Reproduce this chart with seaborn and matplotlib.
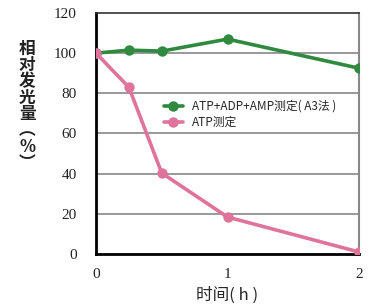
import matplotlib
matplotlib.use("Agg")
import matplotlib.pyplot as plt
import seaborn as sns
import pandas as pd

# data
hours = [0, 0.25, 0.5, 1, 2]
total_atp = [100, 101.5, 101, 107, 92.5]
atp_only = [100, 83, 40.3, 18.4, 1]
series_names = ["ATP+ADP+AMP测定( A3法 )", "ATP测定"]
y_ticks = [0, 20, 40, 60, 80, 100, 120]
x_ticks = [0, 1, 2]

sns.set_style("white")
plt.rcParams["font.family"] = ["Noto Sans CJK SC", "DejaVu Sans"]

df = pd.DataFrame({
    "hours": hours * 2,
    "value": total_atp + atp_only,
    "series": [series_names[0]] * len(hours) + [series_names[1]] * len(hours),
})

green = "#2f8a3f"
pink = "#e0739c"

fig = plt.figure(figsize=(3.71, 3.07), dpi=100)
ax = fig.add_axes([0.2588, 0.1726, 0.7089, 0.7851])

sns.lineplot(data=df, x="hours", y="value", hue="series",
             palette=[green, pink], marker="o", markersize=7.5,
             markeredgewidth=0, linewidth=2.6, ax=ax, zorder=3)

ax.set_xlim(0, 2)
ax.set_ylim(0, 120)
ax.set_yticks(y_ticks)
ax.set_xticks(x_ticks)
ax.set_yticklabels([str(v) for v in y_ticks], family="Liberation Serif", fontsize=11, color="#222222")
ax.set_xticklabels([str(v) for v in x_ticks], family="Liberation Serif", fontsize=11, color="#222222")
ax.tick_params(axis="y", length=0, pad=14)
ax.tick_params(axis="x", direction="in", length=3, width=1, pad=10, colors="#222222")

# horizontal grid lines
for v in y_ticks[1:-1]:
    ax.axhline(v, color="#888888", linewidth=1.2, zorder=1)

for s in ["left", "bottom"]:
    ax.spines[s].set_color("black")
    ax.spines[s].set_linewidth(2)
ax.spines["top"].set_color("#333333")
ax.spines["top"].set_linewidth(1.2)
ax.spines["right"].set_color("#888888")
ax.spines["right"].set_linewidth(1.5)

ax.set_xlabel("时间( h )", fontsize=12, labelpad=4)
ax.set_ylabel("")
fig.text(0.073, 0.655, "相\n对\n发\n光\n量\n︵\n%\n︶", fontsize=12, ha="center", va="center",
         linespacing=0.88, color="#222222", fontweight="bold")

leg = ax.legend(loc="upper left", bbox_to_anchor=(0.24, 0.66), frameon=False,
                fontsize=8.5, handlelength=1.6, borderaxespad=0, labelspacing=0.3)

fig.savefig("out.png", dpi=100)
